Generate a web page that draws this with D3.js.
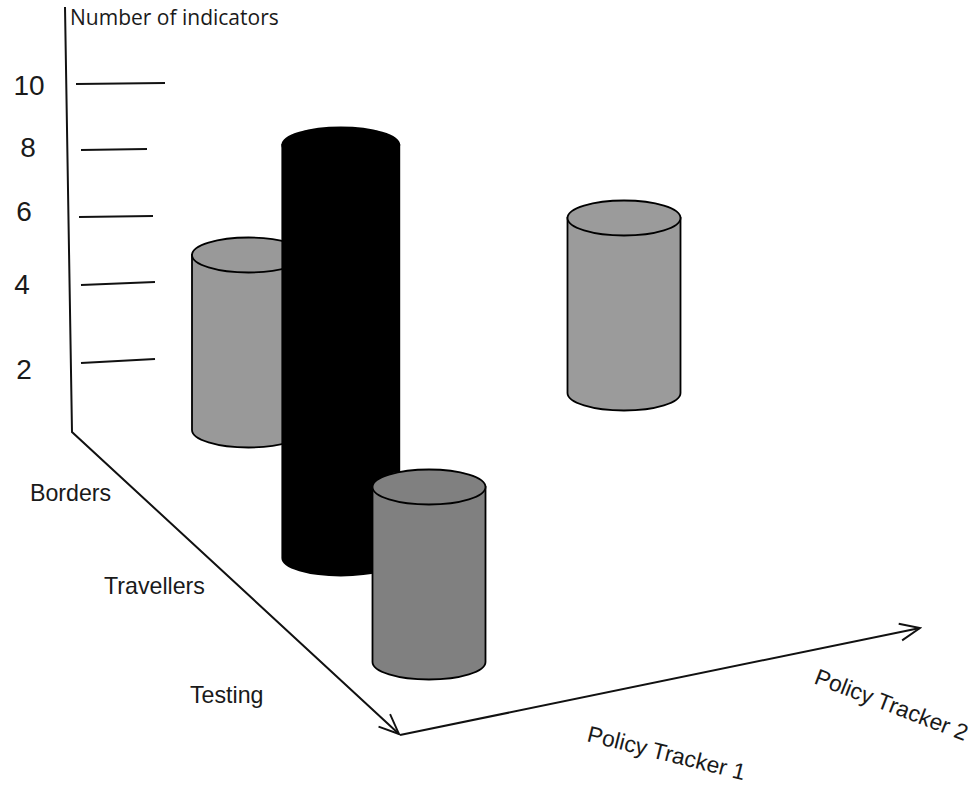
<!DOCTYPE html>
<html>
<head>
<meta charset="utf-8">
<script src="https://cdn.jsdelivr.net/npm/d3@7/dist/d3.min.js"></script>
<style>
html,body{margin:0;padding:0;background:#fff;overflow:hidden}
svg{display:block}
text{fill:#1a1a1a;font-family:"Liberation Sans",Arial,sans-serif}
</style>
</head>
<body>
<div id="chart"></div>
<script>
// Indicator counts per measure group and policy tracker
const categories = ["Borders", "Travellers", "Testing"];
const trackers = ["Policy Tracker 1", "Policy Tracker 2"];
const tickValues = [2, 4, 6, 8, 10];
const barCategory = ["Borders", "Borders", "Travellers", "Testing"];
const barTracker = ["Policy Tracker 1", "Policy Tracker 2", "Policy Tracker 1", "Policy Tracker 1"];
const barValue = [5, 5, 11.8, 5];
const barFill = ["#999999", "#9b9b9b", "#000000", "#808080"];

const W = 973, H = 785;
const svg = d3.select("#chart").append("svg").attr("width", W).attr("height", H);

// Hand-drawn oblique projection: floor position from category and tracker, height from value
const floorX = d3.scaleOrdinal().domain(categories).range([248.5, 340.8, 429]);
const floorY = d3.scaleOrdinal().domain(categories).range([430, 558, 662]);
const shiftX = d3.scaleOrdinal().domain(trackers).range([0, 375.5]);
const shiftY = d3.scaleOrdinal().domain(trackers).range([0, -37]);
const heightScale = d3.scaleLinear().domain([0, 10]).range([0, 350]);
const radiusX = d3.scaleOrdinal().domain(categories).range([56.5, 58.5, 56.5]);

// The sketched ticks are unevenly spaced and have their own lengths
const tickY = d3.scaleOrdinal().domain(tickValues).range([361, 283.5, 216.5, 149.5, 83.5]);
const tickSlope = d3.scaleOrdinal().domain(tickValues).range([2, 1.5, 0.5, 0.5, 0.5]);
const tickStart = d3.scaleOrdinal().domain(tickValues).range([81, 81, 79, 81, 76]);
const tickEnd = d3.scaleOrdinal().domain(tickValues).range([155, 155, 153, 147, 165]);
const labelX = d3.scaleOrdinal().domain(tickValues).range([24, 22, 24, 28, 29]);
const labelY = d3.scaleOrdinal().domain(tickValues).range([379, 294, 221, 157, 95]);

const catLabelX = d3.scaleOrdinal().domain(categories).range([30, 104, 190]);
const catLabelY = d3.scaleOrdinal().domain(categories).range([501, 594, 703]);

const defs = svg.append("defs");
defs.append("marker").attr("id", "arrow")
  .attr("viewBox", "-22 -12 24 24").attr("refX", 0).attr("refY", 0)
  .attr("markerUnits", "userSpaceOnUse").attr("markerWidth", 24).attr("markerHeight", 24)
  .attr("orient", "auto")
  .append("path").attr("d", "M-20,-8.5L0,0L-20,8.5")
  .attr("fill", "none").attr("stroke", "#111").attr("stroke-width", 1.9);

const line = d3.line();
const axes = svg.append("g").attr("fill", "none").attr("stroke", "#111").attr("stroke-width", 2);
axes.append("path").attr("d", line([[65, 7], [72, 432], [399, 734]])).attr("marker-end", "url(#arrow)");
axes.append("path").attr("d", line([[400, 735], [920, 628]])).attr("marker-end", "url(#arrow)");

// Tick rules and their numbers
svg.append("g").selectAll("line").data(tickValues).join("line")
  .attr("x1", tickStart).attr("x2", tickEnd)
  .attr("y1", d => tickY(d) + tickSlope(d)).attr("y2", d => tickY(d) - tickSlope(d))
  .attr("stroke", "#111").attr("stroke-width", 1.8);
svg.append("g").selectAll("text").data(tickValues).join("text")
  .attr("x", labelX).attr("y", labelY)
  .attr("text-anchor", "middle").attr("font-size", 28)
  .text(d => d);

svg.append("text").attr("x", 70).attr("y", 25)
  .style("font-family", "'Open Sans',sans-serif").attr("font-size", 21)
  .text("Number of indicators");

svg.append("g").selectAll("text").data(categories).join("text")
  .attr("x", catLabelX).attr("y", catLabelY)
  .attr("font-size", 23.2).text(d => d);

const trackerLabelPos = d3.scaleOrdinal().domain(trackers).range([[586, 741, 14], [813, 683, 21]]);
const trackerLabelSize = d3.scaleOrdinal().domain(trackers).range([22.8, 22.8]);
svg.append("g").selectAll("text").data(trackers).join("text")
  .attr("transform", d => { const p = trackerLabelPos(d); return `translate(${p[0]},${p[1]}) rotate(${p[2]})`; })
  .attr("font-size", trackerLabelSize).text(d => d);

// Cylinders, back to front
const ry = 17.5;
const bars = barValue.map((v, i) => {
  const c = barCategory[i], t = barTracker[i];
  const cx = floorX(c) + shiftX(t), by = floorY(c) + shiftY(t);
  return { cx, by, ty: by - heightScale(v), rx: radiusX(c), fill: barFill[i] };
});
const cyl = svg.append("g").selectAll("g").data(bars).join("g");
cyl.append("path")
  .attr("d", d => `M${d.cx - d.rx},${d.ty}L${d.cx - d.rx},${d.by}A${d.rx},${ry} 0 0 0 ${d.cx + d.rx},${d.by}L${d.cx + d.rx},${d.ty}Z`)
  .attr("fill", d => d.fill).attr("stroke", "#000").attr("stroke-width", 1.8);
cyl.append("ellipse")
  .attr("cx", d => d.cx).attr("cy", d => d.ty).attr("rx", d => d.rx).attr("ry", ry)
  .attr("fill", d => d.fill).attr("stroke", "#000").attr("stroke-width", 1.8);
</script>
</body>
</html>
